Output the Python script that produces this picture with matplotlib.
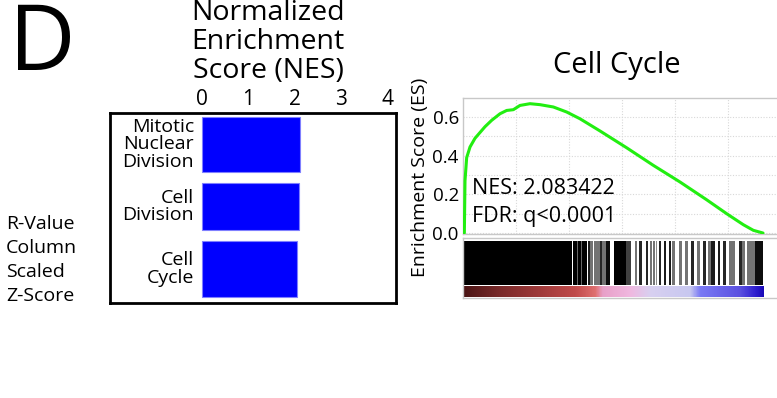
import matplotlib
matplotlib.use("Agg")
import matplotlib.pyplot as plt
from matplotlib.colors import LinearSegmentedColormap
import numpy as np

plt.rcParams['font.family'] = ['Open Sans', 'DejaVu Sans']

W, H = 777, 398

# ---------------- data ----------------
terms = ["Mitotic\nNuclear\nDivision", "Cell\nDivision", "Cell\nCycle"]
nes_values = [2.12, 2.09, 2.04]
nes_ticks = [0, 1, 2, 3, 4]

es_ranks = [76, 113, 208, 397, 680, 963, 1247, 1624, 2097, 2474, 2852, 3230,
            3797, 4363, 5119, 5874, 6630, 7763, 9274, 10786, 12297, 13808,
            14942, 15887, 16453, 17000]
es_values = [0.0, 0.27, 0.39, 0.445, 0.49, 0.52, 0.55, 0.583, 0.617, 0.634,
             0.638, 0.66, 0.669, 0.664, 0.652, 0.626, 0.591, 0.528, 0.441,
             0.35, 0.264, 0.172, 0.10, 0.043, 0.014, 0.0]
n_genes = 17000

# hit segments (start rank, end rank) and rendered grey level (0 = black)
hit_starts = [57, 2459, 5236, 6211, 6432, 6489, 6687, 6727, 7084, 7169,
              7424, 7764, 7877, 8075, 8529, 9237, 9747, 9974, 10371, 10597,
              10767, 10937, 11107, 11390, 11673, 11843, 12240, 12580, 12920,
              13260, 13600, 13884, 14054, 14450, 14734, 15081, 15647, 15816,
              16099, 16553]
hit_ends = [2414, 5191, 6166, 6432, 6489, 6687, 6727, 6999, 7169, 7367,
            7764, 7877, 8075, 8330, 9237, 9521, 9861, 10144, 10484, 10710,
            10881, 10994, 11220, 11503, 11787, 12014, 12410, 12750, 13090,
            13430, 13770, 14054, 14280, 14535, 14875, 15421, 15789, 15986,
            16553, 17000]
hit_grey = [0.0, 0.0, 0.0, 0.0, 0.4, 0.0, 0.4, 0.0, 0.1, 0.45,
            0.45, 0.15, 0.45, 0.05, 0.0, 0.25, 0.45, 0.15, 0.15, 0.45,
            0.45, 0.55, 0.15, 0.1, 0.1, 0.45, 0.45, 0.45, 0.15,
            0.45, 0.15, 0.45, 0.1, 0.1, 0.15, 0.45, 0.15, 0.45,
            0.45, 0.05]

metric_stop_ranks = [0, 2097, 4363, 6347, 7480, 7877, 9464, 10597, 12863,
                     13430, 15697, 16547, 17000]
metric_stop_colors = ["#4a1414", "#7a2a2a", "#a03a3a", "#c04a4a", "#e07070",
                      "#e8a0c8", "#f0b8e0", "#d8d0f0", "#c8c8f0", "#7a7af5",
                      "#5a50e0", "#3020d0", "#1a0ab8"]

nes_text = "NES: 2.083422"
fdr_text = "FDR: q<0.0001"

# ---------------- helpers ----------------
def box(l, t, r, b):
    return [l / W, 1 - b / H, (r - l) / W, (b - t) / H]

fig = plt.figure(figsize=(W / 100, H / 100), dpi=100)

# Panel letter and titles
fig.text(9 / W, 1 - 46 / H, "D", fontsize=66, ha="left", va="center")
fig.text(268 / W, 1 - 42 / H, "Normalized\nEnrichment\nScore (NES)",
         fontsize=20.5, ha="center", va="center", linespacing=1.03)
fig.text(6 / W, 1 - 260 / H, "R-Value\nColumn\nScaled\nZ-Score",
         fontsize=14, ha="left", va="center", linespacing=1.45)

# ---------------- bar panel ----------------
ax = fig.add_axes(box(110, 113, 396, 303))
ypos = np.arange(len(terms))
heights = [0.9, 0.76, 0.9]
ax.barh(ypos, nes_values, height=heights, color="#0000ff",
        edgecolor="#7f7fff", linewidth=0.8)
ax.set_xlim(-1.99, 4.19)
ax.set_ylim(2.552, -0.507)
ax.set_xticks(nes_ticks)
ax.set_xticklabels([str(t) for t in nes_ticks])
ax.xaxis.tick_top()
ax.tick_params(axis="x", length=0, pad=2, labelsize=15)
ax.set_yticks([])
for s in ax.spines.values():
    s.set_linewidth(2.0)
    s.set_color("black")
for y, t in zip(ypos, terms):
    ax.text(-0.17, y, t, ha="right", va="center", fontsize=14,
            linespacing=0.98)

# ---------------- ES panel ----------------
fig.text(617 / W, 1 - 66 / H, "Cell Cycle", fontsize=21, ha="center",
         va="center")
fig.text(420 / W, 1 - 177 / H, "Enrichment Score (ES)", fontsize=14,
         rotation=90, ha="center", va="center")

xmax = n_genes * (780 - 463) / 300.0
ax2 = fig.add_axes(box(463, 97.7, 780, 234))
ax2.plot(es_ranks, es_values, color="#22ee11", lw=2.2, solid_capstyle="round",
         zorder=3)
ax2.set_xlim(0, xmax)
ax2.set_ylim(-0.005, 0.7)
ax2.set_yticks([0.0, 0.2, 0.4, 0.6])
ax2.set_yticklabels(["0.0", "0.2", "0.4", "0.6"])
ax2.set_yticks(np.arange(0.1, 0.7, 0.1), minor=True)
ax2.set_xticks(np.arange(3000, xmax, 3000))
ax2.tick_params(axis="x", length=0, labelbottom=False)
ax2.tick_params(axis="y", which="both", length=0, pad=3, labelsize=13.5)
ax2.grid(True, which="both", color="#d8d8d8", linestyle=(0, (1, 1.5)),
         linewidth=0.8)
for k in ["top", "left", "bottom"]:
    ax2.spines[k].set_color("#c8c8c8")
    ax2.spines[k].set_linewidth(1.0)
ax2.spines["right"].set_visible(False)
ax2.text(0.028, 0.335, nes_text, transform=ax2.transAxes, fontsize=15.5,
         ha="left", va="center")
ax2.text(0.028, 0.13, fdr_text, transform=ax2.transAxes, fontsize=15.5,
         ha="left", va="center")

# ---------------- hits + ranked metric ----------------
ax3 = fig.add_axes(box(463, 238, 780, 298))
y0, y1 = 0.217, 0.95
for a, b, g in zip(hit_starts, hit_ends, hit_grey):
    ax3.fill_between([a, b], y0, y1, color=str(g), lw=0)
cmap = LinearSegmentedColormap.from_list(
    "metric", list(zip([r / n_genes for r in metric_stop_ranks],
                       metric_stop_colors)))
grad = np.linspace(0, 1, 600)[None, :]
ax3.imshow(grad, extent=[0, n_genes, 0.017, 0.2], aspect="auto", cmap=cmap,
           interpolation="bilinear")
ax3.set_xlim(0, xmax)
ax3.set_ylim(0, 1)
ax3.set_xticks([])
ax3.set_yticks([])
for s in ax3.spines.values():
    s.set_color("#c8c8c8")
    s.set_linewidth(1.0)
ax3.spines["right"].set_visible(False)

fig.savefig("out.png", dpi=100)
